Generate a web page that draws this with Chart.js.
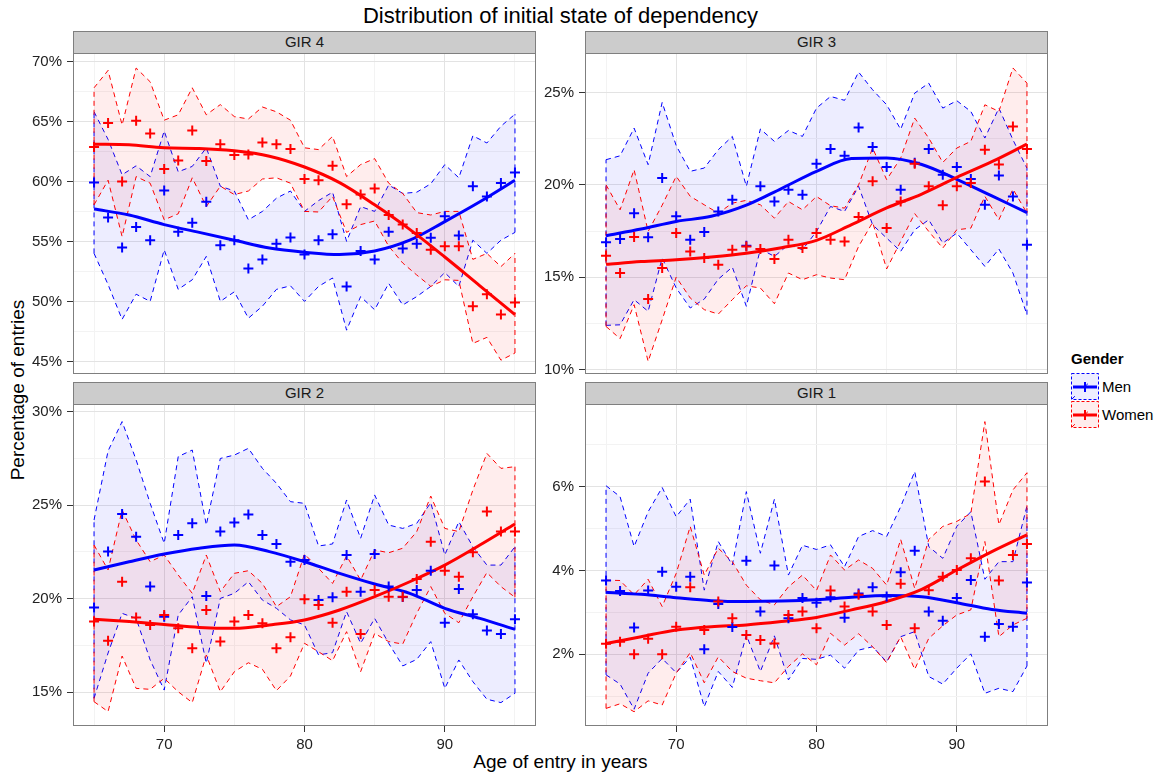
<!DOCTYPE html>
<html><head><meta charset="utf-8">
<script src="https://cdn.jsdelivr.net/npm/chart.js@4.4.1/dist/chart.umd.min.js"></script>
<style>
body{margin:0;background:#fff;width:1159px;height:776px;position:relative;overflow:hidden;font-family:"Liberation Sans",Arial,sans-serif;}
canvas{position:absolute;}
.strip{position:absolute;box-sizing:border-box;background:#cccccc;border:1px solid #7f7f7f;text-align:center;font-size:15px;line-height:20px;color:#1a1a1a;}
#title{position:absolute;left:0;width:1121px;top:3px;text-align:center;font-size:22px;color:#000;}
#xtitle{position:absolute;left:0;width:1121px;top:751px;text-align:center;font-size:19px;color:#000;}
#ytitle{position:absolute;left:18px;top:390px;transform:translate(-50%,-50%) rotate(-90deg);white-space:nowrap;font-size:19px;color:#000;}
#legend{position:absolute;left:1071px;top:350px;font-size:15px;color:#000;}
#legend .lt{font-weight:bold;height:22px;line-height:18px;}
#legend .row{height:28px;display:flex;align-items:center;}
#legend svg{display:block;margin-right:3px;}
</style></head><body>
<div id="title">Distribution of initial state of dependency</div>
<div id="xtitle">Age of entry in years</div>
<div id="ytitle">Percentage of entries</div>
<div id="legend">
 <div class="lt">Gender</div>
 <div class="row"><svg width="28" height="27"><rect x="0.5" y="0.5" width="27" height="26" fill="rgba(0,0,255,0.07)" stroke="#0000ff" stroke-dasharray="3,2"/><line x1="1" y1="26" x2="27" y2="1" stroke="#0000ff" stroke-dasharray="4,14"/><line x1="2" y1="14" x2="26" y2="14" stroke="#0000ff" stroke-width="3"/><line x1="14" y1="9" x2="14" y2="19" stroke="#0000ff" stroke-width="2"/></svg><span>Men</span></div>
 <div class="row"><svg width="28" height="27"><rect x="0.5" y="0.5" width="27" height="26" fill="rgba(255,0,0,0.07)" stroke="#ff0000" stroke-dasharray="3,2"/><line x1="1" y1="26" x2="27" y2="1" stroke="#ff0000" stroke-dasharray="4,14"/><line x1="2" y1="14" x2="26" y2="14" stroke="#ff0000" stroke-width="3"/><line x1="14" y1="9" x2="14" y2="19" stroke="#ff0000" stroke-width="2"/></svg><span>Women</span></div>
</div>
<script>
// ---- shared axes ----
const ages = [65,66,67,68,69,70,71,72,73,74,75,76,77,78,79,80,81,82,83,84,85,86,87,88,89,90,91,92,93,94,95];
const smoothAges = [65,67.5,70,72.5,75,77.5,80,82.5,85,87.5,90,92.5,95];
const xTicks = [65,70,75,80,85,90,95];
const xTickLabels = [70,80,90];

// ---- GIR 4 ----
const gir4YTicks = [45,50,55,60,65,70];
const gir4YRange = [43.95,70.7];
const gir4MenPoints = [59.9,57.0,54.5,56.2,55.1,59.25,55.8,56.55,58.3,54.67,55.1,52.75,53.5,54.8,55.33,53.9,55.1,55.6,51.25,54.2,53.5,55.8,54.4,54.8,55.3,57.1,55.5,59.6,58.75,59.86,60.75];
const gir4MenUpper = [65.8,63.5,60.55,61.3,60.4,64.2,60.8,61.25,62.8,59.6,59.2,56.8,57.5,58.6,59.2,57.5,58.4,59.1,55.0,57.9,57.5,59.7,59.0,59.1,59.8,61.4,60.3,63.8,63.2,64.6,65.6];
const gir4MenLower = [54.0,51.4,48.5,50.6,50.0,54.3,51.0,51.8,53.75,50.0,50.8,48.6,49.6,51.0,51.3,50.0,51.25,51.95,47.6,50.4,49.3,51.5,49.7,50.4,51.25,52.4,51.25,55.1,54.0,55.1,55.75];
const gir4MenSmooth = [57.7,57.2,56.4,55.75,55.1,54.45,54.1,53.9,54.2,55.1,56.65,58.3,60.1];
const gir4WomenPoints = [62.86,64.86,60.0,65.06,64.0,61.03,61.75,64.25,61.7,63.1,62.2,62.25,63.25,63.1,62.7,60.2,60.1,61.3,58.1,58.9,59.4,57.2,56.4,55.7,54.3,54.6,54.6,49.6,50.6,48.9,49.9];
const gir4WomenUpper = [67.8,69.25,64.7,69.45,68.3,65.1,65.55,67.8,65.55,66.4,65.4,65.2,66.2,65.8,65.1,62.8,62.65,63.75,60.4,61.4,61.9,59.85,59.0,57.4,57.2,57.5,57.5,53.5,54.0,52.9,54.0];
const gir4WomenLower = [58.05,60.1,55.4,60.4,59.85,56.8,57.3,60.3,57.9,59.6,58.9,59.2,60.2,60.3,59.85,57.5,57.45,58.75,55.75,56.4,56.7,54.6,53.2,52.2,51.25,51.8,51.75,46.5,47.0,45.1,45.7];
const gir4WomenSmooth = [63.1,63.05,62.8,62.75,62.55,62.1,61.2,59.9,58.05,56.0,53.7,51.3,48.9];

// ---- GIR 3 ----
const gir3YTicks = [10,15,20,25];
const gir3YRange = [9.77,27.13];
const gir3MenPoints = [16.9,17.07,18.47,17.16,20.37,18.3,17.03,17.45,18.56,19.2,16.7,19.92,19.1,19.74,19.47,21.14,21.94,21.57,23.1,22.04,20.96,19.74,21.2,21.94,20.55,20.96,20.31,18.92,20.5,19.37,16.76];
const gir3MenUpper = [21.36,21.57,23.07,21.09,24.46,22.12,20.73,20.91,21.9,22.62,19.92,23.02,22.35,22.94,22.62,24.15,24.78,24.57,26.1,25.14,24.33,23.0,24.96,25.5,24.15,24.55,23.97,22.53,24.15,22.44,20.9];
const gir3MenLower = [12.4,12.43,13.79,13.16,16.04,14.42,13.34,13.82,14.9,15.55,13.43,16.53,16.13,16.76,16.49,17.48,18.83,18.56,19.92,17.84,17.12,16.4,17.57,18.11,16.85,17.39,16.49,15.59,16.53,15.23,12.98];
const gir3MenSmooth = [17.25,17.61,18.02,18.3,18.9,19.8,20.73,21.42,21.45,21.1,20.3,19.4,18.5];
const gir3WomenPoints = [16.17,15.23,17.18,13.82,15.5,17.39,16.4,16.04,15.68,16.49,16.67,16.53,15.99,17.03,16.58,17.4,17.03,16.94,18.26,20.19,17.67,19.1,21.14,19.92,18.9,19.92,20.1,21.9,21.1,23.16,21.94];
const gir3WomenUpper = [20.0,18.65,20.82,17.48,18.9,20.46,19.38,18.92,18.47,19.01,19.16,18.92,18.2,19.1,18.65,19.37,18.87,18.74,20.0,21.99,20.28,21.45,23.61,22.53,21.21,21.99,22.35,24.33,23.97,26.32,25.5];
const gir3WomenLower = [12.34,11.68,13.52,10.45,12.7,15.01,13.88,13.25,13.01,13.79,14.54,14.42,13.57,15.23,14.87,15.14,14.96,14.87,16.67,17.97,15.45,16.94,18.44,17.48,16.58,17.57,17.66,19.38,18.11,19.77,18.47];
const gir3WomenSmooth = [15.7,15.85,15.95,16.1,16.3,16.6,17.0,17.85,18.75,19.5,20.4,21.25,22.2];

// ---- GIR 2 ----
const gir2YTicks = [15,20,25,30];
const gir2YRange = [13.2,30.41];
const gir2MenPoints = [19.54,22.52,24.53,23.32,20.65,19.04,23.41,24.03,20.15,23.59,24.07,24.51,23.41,22.93,21.98,22.07,19.93,20.08,22.34,20.38,22.39,20.65,20.1,20.47,21.5,18.72,20.52,19.17,18.3,18.12,18.9];
const gir2MenUpper = [24.21,27.9,29.47,27.42,25.1,22.96,27.6,27.95,23.94,27.5,27.68,28.04,26.97,26.17,25.19,25.1,22.82,22.93,25.28,23.23,25.55,23.94,23.76,24.03,25.14,22.34,24.12,22.78,21.8,21.8,22.78];
const gir2MenLower = [14.68,17.1,19.22,18.95,16.73,15.12,19.13,20.11,16.55,20.02,20.29,20.91,19.93,19.49,18.87,18.6,17.0,17.12,19.31,17.62,18.95,17.62,16.41,16.76,17.71,15.21,16.73,15.57,14.63,14.45,14.95];
const gir2MenSmooth = [21.54,21.98,22.39,22.7,22.87,22.52,21.98,21.36,20.79,20.29,19.49,18.95,18.37];
const gir2WomenPoints = [18.78,17.76,20.91,19.0,18.6,19.13,18.42,17.35,19.4,17.71,18.78,19.13,18.69,17.35,17.94,19.97,19.67,18.72,20.38,18.12,20.47,20.11,20.11,21.06,23.05,21.5,21.18,22.48,24.66,23.59,23.59];
const gir2WomenUpper = [22.87,21.54,24.74,23.14,21.98,22.34,21.27,20.29,22.34,20.38,21.36,21.5,20.82,19.58,20.11,22.39,21.63,20.82,22.29,21.0,22.61,22.46,22.7,23.59,25.49,23.76,23.59,25.81,27.77,26.97,27.06];
const gir2WomenLower = [14.5,13.97,16.94,15.21,15.16,15.75,15.03,14.45,16.99,15.03,16.1,16.58,16.23,15.09,15.87,17.62,17.17,16.69,18.24,16.1,18.15,17.71,17.58,19.22,20.65,19.22,18.72,20.11,21.4,20.65,20.08];
const gir2WomenSmooth = [18.9,18.78,18.63,18.47,18.42,18.6,18.87,19.4,20.11,20.91,21.8,22.87,24.0];

// ---- GIR 1 ----
const gir1YTicks = [2,4,6];
const gir1YRange = [0.29,7.97];
const gir1MenPoints = [3.76,3.51,2.64,3.52,3.97,3.61,3.85,2.12,3.2,2.65,4.23,3.02,4.12,2.86,3.34,3.23,3.36,2.87,3.45,3.6,3.38,3.96,4.47,3.02,2.8,3.34,3.77,2.42,2.72,2.66,3.71];
const gir1MenUpper = [6.02,5.76,4.57,5.4,5.98,5.28,5.7,3.53,4.69,4.13,5.88,4.41,5.7,3.89,4.6,4.5,4.61,4.09,4.81,4.95,4.81,5.52,6.36,4.57,4.29,5.05,5.4,3.79,4.21,4.21,5.54];
const gir1MenLower = [1.51,1.29,0.69,1.55,1.9,1.56,1.93,0.75,1.59,1.21,2.46,1.59,2.44,1.39,1.9,1.88,1.98,1.67,2.1,2.18,1.82,2.42,2.54,1.47,1.29,1.67,2.01,1.07,1.19,1.11,1.72];
const gir1MenSmooth = [3.48,3.43,3.35,3.28,3.26,3.27,3.3,3.36,3.4,3.37,3.23,3.07,2.98];
const gir1WomenPoints = [2.25,2.3,2.0,2.37,2.0,2.66,3.6,2.58,3.26,2.86,2.46,2.34,2.26,2.94,3.02,2.62,3.52,3.14,3.42,3.02,2.7,3.68,2.62,3.53,3.85,4.01,4.29,6.12,3.76,4.37,4.63];
const gir1WomenUpper = [3.77,3.76,3.42,3.79,3.14,3.93,5.05,3.89,4.53,4.21,3.65,3.3,3.18,3.61,3.89,3.52,4.37,4.01,4.25,4.05,3.65,4.74,3.57,4.74,5.05,5.17,5.36,7.55,5.09,5.92,6.33];
const gir1WomenLower = [0.71,0.82,0.63,0.89,0.79,1.55,2.04,1.32,1.94,1.59,1.43,1.37,1.32,1.71,2.01,1.75,2.5,2.22,2.49,2.18,1.8,2.42,1.64,2.38,2.68,2.94,3.06,4.69,2.42,2.7,2.86];
const gir1WomenSmooth = [2.26,2.42,2.58,2.66,2.7,2.78,2.88,3.06,3.26,3.55,4.01,4.45,4.85];

const MEN = '#0000ff', WOMEN = '#ff0000';
const MEN_FILL = 'rgba(0,0,255,0.07)', WOMEN_FILL = 'rgba(255,0,0,0.07)';

const panels = [
  {name:'GIR 4', col:0, row:0, yTicks:gir4YTicks, yRange:gir4YRange,
   men:[gir4MenPoints,gir4MenLower,gir4MenUpper,gir4MenSmooth], women:[gir4WomenPoints,gir4WomenLower,gir4WomenUpper,gir4WomenSmooth]},
  {name:'GIR 3', col:1, row:0, yTicks:gir3YTicks, yRange:gir3YRange,
   men:[gir3MenPoints,gir3MenLower,gir3MenUpper,gir3MenSmooth], women:[gir3WomenPoints,gir3WomenLower,gir3WomenUpper,gir3WomenSmooth]},
  {name:'GIR 2', col:0, row:1, yTicks:gir2YTicks, yRange:gir2YRange,
   men:[gir2MenPoints,gir2MenLower,gir2MenUpper,gir2MenSmooth], women:[gir2WomenPoints,gir2WomenLower,gir2WomenUpper,gir2WomenSmooth]},
  {name:'GIR 1', col:1, row:1, yTicks:gir1YTicks, yRange:gir1YRange,
   men:[gir1MenPoints,gir1MenLower,gir1MenUpper,gir1MenSmooth], women:[gir1WomenPoints,gir1WomenLower,gir1WomenUpper,gir1WomenSmooth]}
];

const toXY = (xs, ys) => xs.map((x,i)=>({x:x, y:ys[i]}));
function edgeData(lo, up){
  const n = ages.length-1;
  return [{x:ages[0],y:lo[0]},{x:ages[0],y:up[0]},{x:80,y:null},{x:ages[n],y:lo[n]},{x:ages[n],y:up[n]}];
}

const panelBorder = {
  id:'panelBorder',
  afterDraw(chart){
    const {ctx, chartArea:a} = chart;
    ctx.save();
    ctx.strokeStyle = '#7f7f7f'; ctx.lineWidth = 1;
    ctx.strokeRect(Math.round(a.left)+0.5, Math.round(a.top)+0.5, Math.round(a.right-a.left)-1, Math.round(a.bottom-a.top)-1);
    ctx.restore();
  }
};

// geometry
const COL_LEFT = [73, 585], PANEL_W = 463, Y_AXIS_W = 60, PAD_T = 12, PAD_R = 12;
const ROW_TOP = [53, 404], PANEL_H = [321, 322], X_AXIS_H = [0, 40];
const STRIP_H = 22;

function build(p){
  const isBottom = p.row === 1;
  const cw = Y_AXIS_W + PANEL_W + PAD_R;
  const padB = isBottom ? 0 : 8;
  const ch = PAD_T + PANEL_H[p.row] + X_AXIS_H[p.row] + padB;
  const canvas = document.createElement('canvas');
  canvas.width = cw; canvas.height = ch;
  canvas.style.left = (COL_LEFT[p.col]-Y_AXIS_W)+'px';
  canvas.style.top = (ROW_TOP[p.row]-PAD_T)+'px';
  canvas.style.width = cw+'px'; canvas.style.height = ch+'px';
  document.body.appendChild(canvas);

  const strip = document.createElement('div');
  strip.className = 'strip';
  strip.style.left = COL_LEFT[p.col]+'px';
  strip.style.top = (ROW_TOP[p.row]-STRIP_H)+'px';
  strip.style.width = PANEL_W+'px';
  strip.style.height = (STRIP_H+1)+'px';
  strip.textContent = p.name;
  document.body.appendChild(strip);

  const step = p.yTicks[1]-p.yTicks[0];
  const yAll = [];
  for (let v = p.yTicks[0]-step; v <= p.yTicks[p.yTicks.length-1]+step+1e-9; v += step/2){
    if (v >= p.yRange[0] && v <= p.yRange[1]) yAll.push(+v.toFixed(4));
  }
  const isMajorY = v => p.yTicks.includes(v);
  const isMajorX = v => xTickLabels.includes(v);

  const [mP, mL, mU, mS] = p.men;
  const [wP, wL, wU, wS] = p.women;
  const ciLine = (data, color, fill, bg, order) => ({
    data, borderColor:color, borderWidth:1, borderDash:[5,4], pointRadius:0, tension:0,
    fill: fill, backgroundColor: bg, order, spanGaps:false
  });
  const datasets = [
    {data:toXY(ages,wP), showLine:false, pointStyle:'cross', pointRadius:5, pointBorderWidth:2, pointBorderColor:WOMEN, borderColor:WOMEN, order:0},
    {data:toXY(ages,mP), showLine:false, pointStyle:'cross', pointRadius:5, pointBorderWidth:2, pointBorderColor:MEN, borderColor:MEN, order:1},
    {data:toXY(smoothAges,wS), borderColor:WOMEN, borderWidth:3, pointRadius:0, cubicInterpolationMode:'monotone', fill:false, order:2},
    {data:toXY(smoothAges,mS), borderColor:MEN, borderWidth:3, pointRadius:0, cubicInterpolationMode:'monotone', fill:false, order:3},
    ciLine(toXY(ages,wL), WOMEN, false, 'transparent', 4),
    ciLine(toXY(ages,wU), WOMEN, '-1', WOMEN_FILL, 4),
    ciLine(edgeData(wL,wU), WOMEN, false, 'transparent', 4),
    ciLine(toXY(ages,mL), MEN, false, 'transparent', 5),
    ciLine(toXY(ages,mU), MEN, '-1', MEN_FILL, 5),
    ciLine(edgeData(mL,mU), MEN, false, 'transparent', 5)
  ];

  new Chart(canvas, {
    type:'line',
    data:{datasets},
    options:{
      responsive:false, animation:false, devicePixelRatio:1, events:[],
      layout:{padding:{top:PAD_T, right:PAD_R, bottom:padB, left:0}},
      plugins:{legend:{display:false}, tooltip:{enabled:false}, title:{display:false}},
      scales:{
        x:{
          type:'linear', min:63.5, max:96.5, border:{display:false},
          afterBuildTicks: a => { a.ticks = xTicks.map(v=>({value:v})); },
          afterFit: a => { a.height = X_AXIS_H[p.row]; a.paddingLeft = 0; a.paddingRight = 0; },
          grid:{
            color: c => (c.tick && isMajorX(c.tick.value)) ? '#e3e3e3' : '#f3f3f3',
            lineWidth:1, drawTicks:isBottom, tickLength:6, tickWidth:1,
            tickColor: c => (c.tick && isMajorX(c.tick.value)) ? '#333333' : 'rgba(0,0,0,0)'
          },
          ticks:{display:isBottom, autoSkip:false, maxRotation:0, minRotation:0, padding:4, color:'#222',
                 font:{size:15, family:'"Liberation Sans", Arial, sans-serif'},
                 callback: v => isMajorX(v) ? String(v) : ''}
        },
        y:{
          type:'linear', min:p.yRange[0], max:p.yRange[1], border:{display:false},
          afterBuildTicks: a => { a.ticks = yAll.map(v=>({value:v})); },
          afterFit: a => { a.width = Y_AXIS_W; a.paddingTop = 0; a.paddingBottom = 0; },
          grid:{
            color: c => (c.tick && isMajorY(c.tick.value)) ? '#e3e3e3' : '#f3f3f3',
            lineWidth:1, drawTicks:true, tickLength:6, tickWidth:1,
            tickColor: c => (c.tick && isMajorY(c.tick.value)) ? '#333333' : 'rgba(0,0,0,0)'
          },
          ticks:{autoSkip:false, padding:5, color:'#222',
                 font:{size:15, family:'"Liberation Sans", Arial, sans-serif'},
                 callback: v => isMajorY(v) ? v+'%' : ''}
        }
      }
    },
    plugins:[panelBorder]
  });
}
panels.forEach(build);
</script>
</body></html>
